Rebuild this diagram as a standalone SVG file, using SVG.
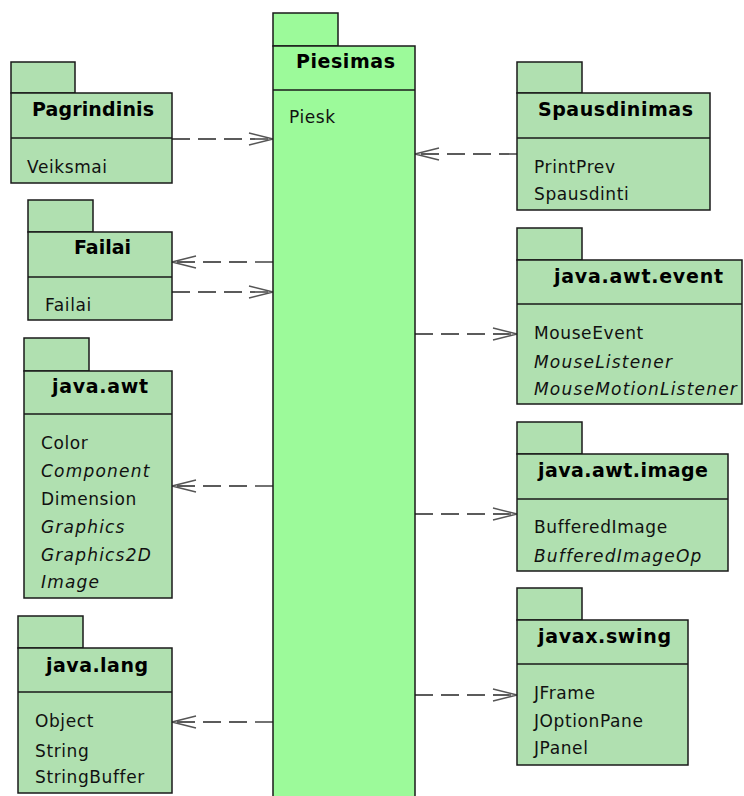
<svg xmlns="http://www.w3.org/2000/svg" width="744" height="796" viewBox="0 0 744 796">
  <style>
    .pkg { fill: #b0e0b0; stroke: #1a1a1a; stroke-width: 1.5; }
    .main { fill: #9cfa9a; stroke: #1a1a1a; stroke-width: 1.5; }
    .div { stroke: #1a1a1a; stroke-width: 1.5; }
    .title { font-family: "DejaVu Sans", Verdana, sans-serif; font-weight: bold; font-size: 19px; fill: #000; text-anchor: middle; }
    .item { font-family: "DejaVu Sans", Verdana, sans-serif; font-size: 17px; letter-spacing: 0.6px; fill: #111; }
    .it { font-style: italic; letter-spacing: 1.2px; }
    .dep { fill: none; stroke: #262626; stroke-width: 1.3; stroke-dasharray: 18 8; marker-end: url(#open); }
  </style>
  <defs>
    <marker id="open" markerUnits="userSpaceOnUse" viewBox="-26 -8 28 16" refX="0" refY="0" markerWidth="28" markerHeight="16" orient="auto" overflow="visible">
      <path d="M -24 -6 L 0 0 L -24 6" fill="none" stroke="#555" stroke-width="1.3"/>
    </marker>
  </defs>
  <rect width="744" height="796" fill="#fff"/>

  <!-- dependency connectors -->
  <g id="connectors">
    <path class="dep" d="M 172 139 H 273"/>
    <path class="dep" d="M 517 154 H 415"/>
    <path class="dep" d="M 273 262 H 172"/>
    <path class="dep" d="M 172 292 H 273"/>
    <path class="dep" d="M 415 334 H 517"/>
    <path class="dep" d="M 273 486 H 172"/>
    <path class="dep" d="M 415 514 H 517"/>
    <path class="dep" d="M 415 695 H 517"/>
    <path class="dep" d="M 273 722 H 172"/>
  </g>

  <g id="piesimas">
    <rect class="main" x="273" y="13" width="65" height="33"/>
    <rect class="main" x="273" y="46" width="142" height="770"/>
    <line class="div" x1="273" y1="90" x2="415" y2="90"/>
    <text class="title" x="345.5" y="68" textLength="99">Piesimas</text>
    <text class="item" x="289" y="123">Piesk</text>
  </g>

  <g id="pagrindinis">
    <rect class="pkg" x="11" y="62" width="64" height="31"/>
    <rect class="pkg" x="11" y="93" width="161" height="90"/>
    <line class="div" x1="11" y1="138" x2="172" y2="138"/>
    <text class="title" x="93" y="116" textLength="122">Pagrindinis</text>
    <text class="item" x="27" y="173">Veiksmai</text>
  </g>

  <g id="failai">
    <rect class="pkg" x="28" y="200" width="65" height="32"/>
    <rect class="pkg" x="28" y="232" width="144" height="88"/>
    <line class="div" x1="28" y1="277" x2="172" y2="277"/>
    <text class="title" x="102.5" y="254" textLength="57">Failai</text>
    <text class="item" x="45" y="311">Failai</text>
  </g>

  <g id="java-awt">
    <rect class="pkg" x="24" y="338" width="65" height="33"/>
    <rect class="pkg" x="24" y="371" width="148" height="227"/>
    <line class="div" x1="24" y1="414" x2="172" y2="414"/>
    <text class="title" x="100" y="393" textLength="96">java.awt</text>
    <text class="item" x="41" y="449">Color</text>
    <text class="item it" x="41" y="477">Component</text>
    <text class="item" x="41" y="505">Dimension</text>
    <text class="item it" x="41" y="533">Graphics</text>
    <text class="item it" x="41" y="561">Graphics2D</text>
    <text class="item it" x="41" y="588">Image</text>
  </g>

  <g id="java-lang">
    <rect class="pkg" x="18" y="616" width="65" height="32"/>
    <rect class="pkg" x="18" y="648" width="154" height="145"/>
    <line class="div" x1="18" y1="692" x2="172" y2="692"/>
    <text class="title" x="97" y="672" textLength="102">java.lang</text>
    <text class="item" x="35" y="727">Object</text>
    <text class="item" x="35" y="757">String</text>
    <text class="item" x="35" y="783">StringBuffer</text>
  </g>

  <g id="spausdinimas">
    <rect class="pkg" x="517" y="62" width="65" height="31"/>
    <rect class="pkg" x="517" y="93" width="193" height="117"/>
    <line class="div" x1="517" y1="138" x2="710" y2="138"/>
    <text class="title" x="615.5" y="116" textLength="155">Spausdinimas</text>
    <text class="item" x="534" y="173">PrintPrev</text>
    <text class="item" x="534" y="200">Spausdinti</text>
  </g>

  <g id="java-awt-event">
    <rect class="pkg" x="517" y="228" width="65" height="32"/>
    <rect class="pkg" x="517" y="260" width="225" height="144"/>
    <line class="div" x1="517" y1="304" x2="742" y2="304"/>
    <text class="title" x="638.5" y="283" textLength="169">java.awt.event</text>
    <text class="item" x="534" y="339">MouseEvent</text>
    <text class="item it" x="534" y="368">MouseListener</text>
    <text class="item it" x="534" y="395">MouseMotionListener</text>
  </g>

  <g id="java-awt-image">
    <rect class="pkg" x="517" y="422" width="65" height="32"/>
    <rect class="pkg" x="517" y="454" width="211" height="117"/>
    <line class="div" x1="517" y1="499" x2="728" y2="499"/>
    <text class="title" x="623" y="477" textLength="170">java.awt.image</text>
    <text class="item" x="534" y="533">BufferedImage</text>
    <text class="item it" x="534" y="562">BufferedImageOp</text>
  </g>

  <g id="javax-swing">
    <rect class="pkg" x="517" y="588" width="65" height="32"/>
    <rect class="pkg" x="517" y="620" width="171" height="145"/>
    <line class="div" x1="517" y1="664" x2="688" y2="664"/>
    <text class="title" x="604.5" y="643" textLength="133">javax.swing</text>
    <text class="item" x="534" y="699">JFrame</text>
    <text class="item" x="534" y="727">JOptionPane</text>
    <text class="item" x="534" y="754">JPanel</text>
  </g>
</svg>
